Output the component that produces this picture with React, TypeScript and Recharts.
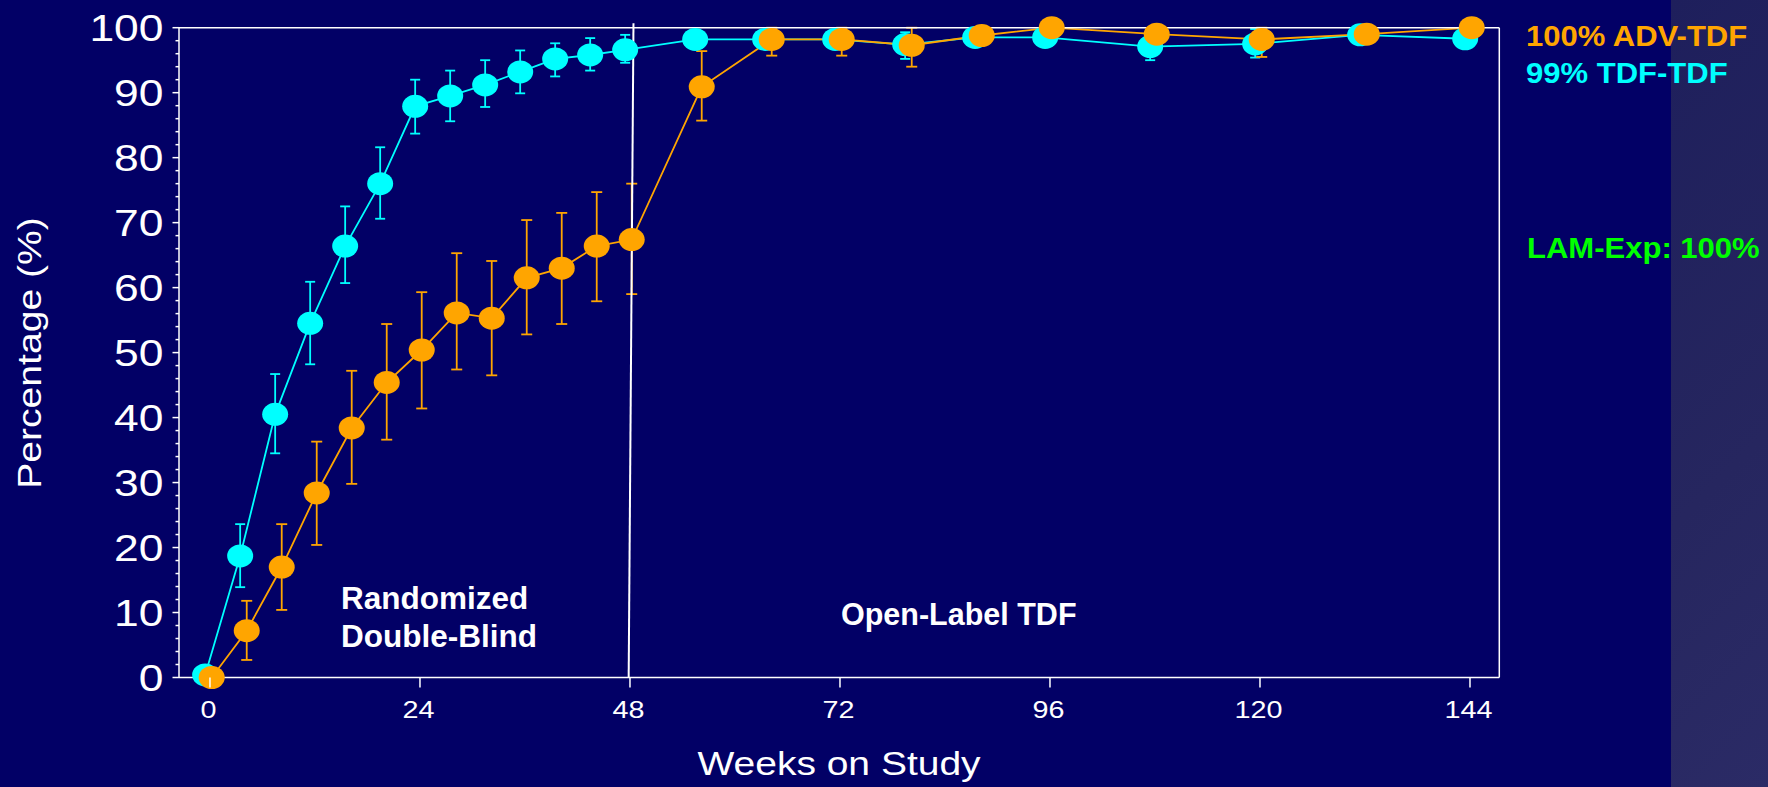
import React from 'react';
import { ComposedChart, Line, XAxis, YAxis, ErrorBar, ReferenceLine } from 'recharts';

// Weeks on study (shared by both arms)
const weeks = [0, 4, 8, 12, 16, 20, 24, 28, 32, 36, 40, 44, 48, 56, 64, 72, 80, 88, 96, 108, 120, 132, 144];

// TDF-TDF arm (cyan): percentage and 95% CI bounds
const tdfValues = [0.4, 18.7, 40.5, 54.5, 66.4, 76.0, 87.9, 89.5, 91.2, 93.2, 95.2, 95.8, 96.6, 98.2, 98.2, 98.2, 97.4, 98.5, 98.5, 97.1, 97.5, 98.9, 98.3];
const tdfLow = [0, 13.9, 34.5, 48.2, 60.7, 70.6, 83.7, 85.6, 87.8, 89.9, 92.5, 93.4, 94.6, 97.0, 97.0, 97.0, 95.2, 97.3, 97.3, 95.0, 95.4, 97.8, 97.3];
const tdfHigh = [1.2, 23.6, 46.7, 60.9, 72.5, 81.6, 92.0, 93.4, 95.0, 96.5, 97.6, 98.4, 98.9, 99.4, 99.4, 99.4, 99.3, 99.5, 99.5, 99.3, 99.8, 99.8, 99.4];

// ADV-TDF arm (orange): percentage and 95% CI bounds
const advValues = [0, 7.2, 17.0, 28.4, 38.4, 45.4, 50.4, 56.1, 55.3, 61.5, 63.0, 66.4, 67.4, 90.9, 98.2, 98.2, 97.3, 98.8, 100, 99.0, 98.2, 99.0, 100];
const advLow = [0, 2.7, 10.4, 20.4, 29.8, 36.6, 41.4, 47.4, 46.5, 52.8, 54.4, 57.9, 59.0, 85.7, 95.7, 95.7, 94.0, 97.6, 99.0, 97.6, 95.5, 97.8, 99.0];
const advHigh = [1.0, 11.8, 23.6, 36.3, 47.2, 54.4, 59.3, 65.3, 64.1, 70.4, 71.5, 74.7, 76.0, 96.4, 100, 100, 100, 99.8, 100, 100, 100, 100, 100];

// small horizontal jitter (weeks) used in the original plot so the arms do not overlap
const tdfJitter = -0.55;
const advJitter = 0.2;

const xTicks = [0, 24, 48, 72, 96, 120, 144];
const yMajor = [0, 10, 20, 30, 40, 50, 60, 70, 80, 90, 100];
const yAllTicks = [0, 2, 4, 6, 8, 10, 12, 14, 16, 18, 20, 22, 24, 26, 28, 30, 32, 34, 36, 38, 40, 42, 44, 46, 48, 50, 52, 54, 56, 58, 60, 62, 64, 66, 68, 70, 72, 74, 76, 78, 80, 82, 84, 86, 88, 90, 92, 94, 96, 98, 100];

const xDomain: [number, number] = [-3.54, 147.35];
const phaseBoundary = { bottom: { x: 47.85, y: 0 }, top: { x: 48.4, y: 100.7 } };

const tdfData = weeks.map((w, i) => ({
  x: w + tdfJitter,
  v: tdfValues[i],
  err: [tdfValues[i] - tdfLow[i], tdfHigh[i] - tdfValues[i]],
}));
const advData = weeks.map((w, i) => ({
  x: w + advJitter,
  v: advValues[i],
  err: [advValues[i] - advLow[i], advHigh[i] - advValues[i]],
}));

const BG = '#020066';
const CYAN = '#00ffff';
const ORANGE = '#ffa500';
const GREEN = '#00ff00';
const FONT = '"Liberation Sans", Arial, sans-serif';

const YTick = (props: any) => {
  const { x, y, payload } = props;
  const v = payload.value;
  const major = yMajor.includes(v);
  return (
    <g>
      <line x1={x - (major ? 6.5 : 3.5)} x2={x} y1={y} y2={y} stroke="#fff" strokeWidth={1.5} />
      {major && (
        <text
          transform={`translate(${x - 15.5},${y + 13.3}) scale(1.2,1)`}
          textAnchor="end"
          fill="#fff"
          fontSize={37}
          fontFamily={FONT}
        >
          {v}
        </text>
      )}
    </g>
  );
};

const XTick = (props: any) => {
  const { x, y, payload } = props;
  return (
    <g>
      <line x1={x} x2={x} y1={y} y2={y + 10} stroke="#fff" strokeWidth={1.5} />
      <text
        transform={`translate(${x - 1.5},${y + 40.8}) scale(1.25,1)`}
        textAnchor="middle"
        fill="#fff"
        fontSize={23}
        fontFamily={FONT}
      >
        {payload.value}
      </text>
    </g>
  );
};

const makeDot = (color: string) => (props: any) => {
  const { cx, cy, index } = props;
  if (cx == null || cy == null) return <g key={`d${index}`} />;
  return <ellipse key={`d${index}`} cx={cx} cy={cy} rx={13} ry={11.5} fill={color} />;
};

export default function App() {
  return (
    <div style={{ position: 'absolute', left: 0, top: 0, width: 1768, height: 787, background: BG, overflow: 'hidden' }}>
      <div
        style={{
          position: 'absolute',
          left: 1671,
          top: 0,
          width: 97,
          height: 787,
          background: 'linear-gradient(135deg, #1e1f5c 0%, #26265f 60%, #2b2b66 100%)',
        }}
      />
      <div style={{ position: 'absolute', left: 0, top: 0 }}>
        <ComposedChart width={1768} height={787} margin={{ top: 27.7, right: 268.7, bottom: 0, left: 0 }}>
          <XAxis
            type="number"
            dataKey="x"
            domain={xDomain}
            ticks={xTicks}
            allowDataOverflow
            height={109.5}
            stroke="#fff"
            axisLine={{ stroke: '#fff', strokeWidth: 1.5 }}
            tickLine={false}
            tickSize={0}
            tickMargin={0}
            tick={XTick}
            interval={0}
          />
          <YAxis
            type="number"
            domain={[0, 100]}
            ticks={yAllTicks}
            width={179}
            axisLine={{ stroke: '#fff', strokeWidth: 1.5 }}
            tickLine={false}
            tickSize={0}
            tickMargin={0}
            tick={YTick}
            interval={0}
          />
          <Line
            data={tdfData}
            dataKey="v"
            stroke={CYAN}
            strokeWidth={1.8}
            dot={makeDot(CYAN)}
            activeDot={false}
            isAnimationActive={false}
          >
            <ErrorBar dataKey="err" width={5} stroke={CYAN} strokeWidth={1.8} direction="y" />
          </Line>
          <Line
            data={advData}
            dataKey="v"
            stroke={ORANGE}
            strokeWidth={1.8}
            dot={makeDot(ORANGE)}
            activeDot={false}
            isAnimationActive={false}
          >
            <ErrorBar dataKey="err" width={5.5} stroke={ORANGE} strokeWidth={1.8} direction="y" />
          </Line>
          <ReferenceLine y={100} stroke="#fff" strokeWidth={1.5} ifOverflow="visible" />
          <ReferenceLine x={xDomain[1]} stroke="#fff" strokeWidth={1.5} ifOverflow="visible" />
          <ReferenceLine
            segment={[phaseBoundary.bottom, phaseBoundary.top]}
            stroke="#fff"
            strokeWidth={2}
            ifOverflow="visible"
          />
        </ComposedChart>
      </div>
      <svg width={1768} height={787} style={{ position: 'absolute', left: 0, top: 0, pointerEvents: 'none' }}>
        <text
          transform="translate(41,353) rotate(-90) scale(1.15,1)"
          textAnchor="middle"
          fill="#fff"
          fontSize={34}
          fontFamily={FONT}
        >
          Percentage (%)
        </text>
        <text
          transform="translate(839,775) scale(1.2,1)"
          textAnchor="middle"
          fill="#fff"
          fontSize={32.5}
          fontFamily={FONT}
        >
          Weeks on Study
        </text>
        <g fontFamily={FONT} fontWeight="bold" fill="#fff">
          <text x={341} y={609.3} fontSize={31.5}>Randomized</text>
          <text x={341} y={646.7} fontSize={31.5}>Double-Blind</text>
          <text x={841} y={625} fontSize={30.5}>Open-Label TDF</text>
        </g>
        <g fontFamily={FONT} fontWeight="bold" fontSize={29}>
          <text transform="translate(1526,45.7) scale(1.07,1)" fill={ORANGE}>100% ADV-TDF</text>
          <text transform="translate(1526,83.3) scale(1.07,1)" fill={CYAN}>99% TDF-TDF</text>
          <text transform="translate(1527,258.3) scale(1.07,1)" fill={GREEN}>LAM-Exp: 100%</text>
        </g>
      </svg>
    </div>
  );
}
